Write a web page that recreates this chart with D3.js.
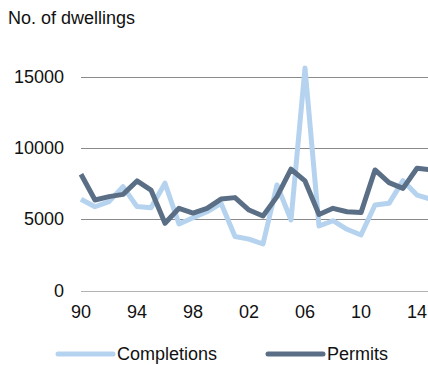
<!DOCTYPE html>
<html>
<head>
<meta charset="utf-8">
<script src="https://cdn.jsdelivr.net/npm/d3@7/dist/d3.min.js"></script>
<style>
  html, body { margin: 0; padding: 0; background: #fff; }
  svg { display: block; font-family: "Liberation Sans", Arial, sans-serif; }
</style>
</head>
<body>
<svg id="chart" width="428" height="365"></svg>
<script>
// Dwelling completions and building permits, 1990–2015
const years = d3.range(1990, 2016);
const completions = [6400, 5870, 6230, 7280, 5880, 5800, 7520, 4660, 5100, 5520,
                     6110, 3780, 3600, 3260, 7400, 4940, 15600, 4520, 4890, 4290,
                     3890, 5990, 6110, 7700, 6690, 6400];
const permits = [8150, 6340, 6580, 6740, 7680, 7040, 4710, 5760, 5430, 5760,
                 6410, 6510, 5640, 5220, 6580, 8500, 7680, 5330, 5760, 5520,
                 5460, 8450, 7560, 7160, 8570, 8450];
const yTicks = [0, 5000, 10000, 15000];
const xTicks = [1990, 1994, 1998, 2002, 2006, 2010, 2014];

const colCompletions = "#b5d3ef";
const colPermits = "#5a6f86";

const svg = d3.select("#chart");
const x = d3.scaleLinear().domain([1990, 2014]).range([81, 417]);
const y = d3.scaleLinear().domain([0, 15000]).range([290.5, 76.5]);

// title
svg.append("text").attr("x", 8).attr("y", 24)
  .attr("font-size", 18).attr("fill", "#111").text("No. of dwellings");

// gridlines
svg.append("g").selectAll("line").data(yTicks).join("line")
  .attr("x1", 81).attr("x2", 428)
  .attr("y1", d => Math.round(y(d)) + 0.5).attr("y2", d => Math.round(y(d)) + 0.5)
  .attr("stroke", d => d === 0 ? "#b3b3b3" : "#8a8a8a").attr("stroke-width", 1);

// y labels
svg.append("g").selectAll("text").data(yTicks).join("text")
  .attr("x", 64).attr("y", d => y(d) + 6)
  .attr("text-anchor", "end").attr("font-size", 18).attr("fill", "#111")
  .text(d => d);

// x labels
svg.append("g").selectAll("text").data(xTicks).join("text")
  .attr("x", d => x(d)).attr("y", 318)
  .attr("text-anchor", "middle").attr("font-size", 18).attr("fill", "#111")
  .text(d => String(d % 100).padStart(2, "0"));

const line = d3.line().x((d, i) => x(years[i])).y(d => y(d));

svg.append("path").datum(completions).attr("d", line)
  .attr("fill", "none").attr("stroke", colCompletions)
  .attr("stroke-width", 5).attr("stroke-linejoin", "round");
svg.append("path").datum(permits).attr("d", line)
  .attr("fill", "none").attr("stroke", colPermits)
  .attr("stroke-width", 5).attr("stroke-linejoin", "round");

// legend
const legend = [
  { name: "Completions", color: colCompletions, x0: 58 },
  { name: "Permits", color: colPermits, x0: 268 }
];
const lg = svg.append("g").selectAll("g").data(legend).join("g");
lg.append("line")
  .attr("x1", d => d.x0).attr("x2", d => d.x0 + 55)
  .attr("y1", 354).attr("y2", 354)
  .attr("stroke", d => d.color).attr("stroke-width", 5).attr("stroke-linecap", "round");
lg.append("text")
  .attr("x", d => d.x0 + 59).attr("y", 360)
  .attr("font-size", 18).attr("fill", "#111").text(d => d.name);
</script>
</body>
</html>
